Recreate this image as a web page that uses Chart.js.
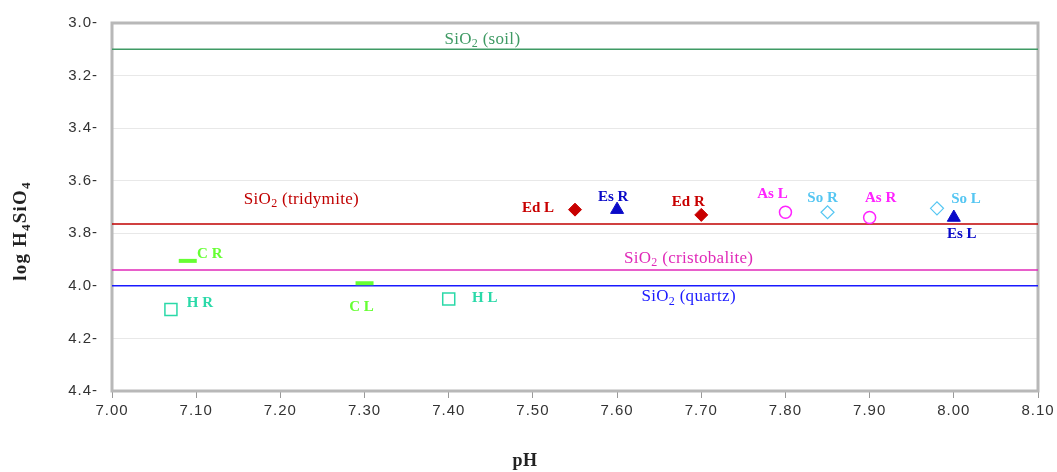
<!DOCTYPE html>
<html>
<head>
<meta charset="utf-8">
<script src="https://cdn.jsdelivr.net/npm/chart.js@4.4.1/dist/chart.umd.min.js"></script>
<style>
  html, body { margin: 0; padding: 0; background: #ffffff; }
  #wrap { width: 1057px; height: 472px; }
</style>
</head>
<body>
<div id="wrap"><canvas id="c" width="1057" height="472"></canvas></div>
<script>
// ---- data ----
const sampleNames = ['H R', 'C R', 'C L', 'H L', 'Ed L', 'Es R', 'Ed R', 'As L', 'So R', 'As R', 'So L', 'Es L'];
const sampleGroups = ['H', 'C', 'C', 'H', 'Ed', 'Es', 'Ed', 'As', 'So', 'As', 'So', 'Es'];
const samplePH = [7.07, 7.09, 7.30, 7.40, 7.55, 7.60, 7.70, 7.80, 7.85, 7.90, 7.98, 8.00];
const sampleLogSi = [4.09, 3.905, 3.99, 4.05, 3.71, 3.71, 3.73, 3.72, 3.72, 3.74, 3.705, 3.74];

const phaseNames = ['soil', 'tridymite', 'cristobalite', 'quartz'];
const phaseLogSi = [3.10, 3.765, 3.94, 4.00];

const xRange = [7.0, 8.1];
const yRange = [3.0, 4.4];
const xStep = 0.1;
const yStep = 0.2;

// ---- styles ----
const groupStyle = {
  H:  { color: '#2ad9a8', pointStyle: 'rect',     fill: false, radius: 8.5, border: 1.5 },
  C:  { color: '#66ff33', pointStyle: 'line',     fill: false, radius: 9,   border: 4 },
  Ed: { color: '#c80000', pointStyle: 'rectRot',  fill: true,  radius: 6.5, border: 1 },
  Es: { color: '#0a0ac8', pointStyle: 'triangle', fill: true,  radius: 7.5, border: 1 },
  As: { color: '#ff22ff', pointStyle: 'circle',   fill: false, radius: 6,   border: 1.5 },
  So: { color: '#55c6f2', pointStyle: 'rectRot',  fill: false, radius: 6.5, border: 1.2 }
};
const phaseColors = ['#3f9a64', '#c00000', '#e02ab8', '#1a1aff'];
// label placement: anchor pH and pixel offset from line
const phaseLabelPH = [7.44, 7.225, 7.685, 7.685];
const phaseLabelDy = [-10, -25, -12, 11];
// sample label pixel offsets [dx, dy]
const sampleLabelOffsets = [[29, -6], [22, -7], [-3, 24], [36, -1], [-37, -2], [-4, -13], [-13, -13], [-13, -18], [-5, -14], [11, -19], [29, -9], [8, 17]];

// ---- datasets ----
const datasets = [];
phaseNames.forEach((n, i) => {
  datasets.push({
    label: 'SiO2 (' + n + ')',
    type: 'line',
    data: [{ x: xRange[0], y: phaseLogSi[i] }, { x: xRange[1], y: phaseLogSi[i] }],
    borderColor: phaseColors[i],
    borderWidth: 1.5,
    pointRadius: 0,
    fill: false,
    order: 2
  });
});
Object.keys(groupStyle).forEach(g => {
  const s = groupStyle[g];
  const pts = [];
  sampleGroups.forEach((sg, i) => { if (sg === g) pts.push({ x: samplePH[i], y: sampleLogSi[i] }); });
  datasets.push({
    label: g,
    type: 'scatter',
    data: pts,
    pointStyle: s.pointStyle,
    pointRadius: s.radius,
    pointHoverRadius: s.radius,
    borderColor: s.color,
    backgroundColor: s.fill ? s.color : 'rgba(255,255,255,0)',
    pointBorderWidth: s.border,
    borderWidth: s.border,
    order: 1
  });
});

function drawSubText(ctx, parts, x, y, size, weight, align, spacing) {
  const fam = '"Liberation Serif", "DejaVu Serif", serif';
  ctx.letterSpacing = (spacing || 0) + 'px';
  let total = 0;
  parts.forEach(p => {
    ctx.font = weight + ' ' + (p[1] ? Math.round(size * 0.68) : size) + 'px ' + fam;
    total += ctx.measureText(p[0]).width;
  });
  let cx = align === 'center' ? x - total / 2 : x;
  ctx.textAlign = 'left';
  ctx.textBaseline = 'middle';
  parts.forEach(p => {
    ctx.font = weight + ' ' + (p[1] ? Math.round(size * 0.68) : size) + 'px ' + fam;
    ctx.fillText(p[0], cx, p[1] ? y + size * 0.28 : y);
    cx += ctx.measureText(p[0]).width;
  });
  ctx.letterSpacing = '0px';
}

const annotPlugin = {
  id: 'annot',
  beforeDraw(chart) {
    chart.ctx.letterSpacing = '1px';
  },
  beforeDatasetsDraw(chart) {
    const ctx = chart.ctx, a = chart.chartArea;
    ctx.letterSpacing = '0px';
    ctx.save();
    ctx.strokeStyle = '#b8b8b8';
    ctx.lineWidth = 3;
    ctx.strokeRect(a.left, a.top, a.right - a.left, a.bottom - a.top);
    ctx.restore();
  },
  afterDatasetsDraw(chart) {
    const ctx = chart.ctx, xs = chart.scales.x, ys = chart.scales.y;
    ctx.save();
    ctx.letterSpacing = '0px';
    // phase line labels
    phaseNames.forEach((n, i) => {
      ctx.fillStyle = phaseColors[i];
      const px = xs.getPixelForValue(phaseLabelPH[i]);
      const py = ys.getPixelForValue(phaseLogSi[i]) + phaseLabelDy[i];
      drawSubText(ctx, [['SiO', false], ['2', true], [' (' + n + ')', false]], px, py, 17, 'normal', 'center', 0.3);
    });
    // sample labels
    ctx.textAlign = 'center';
    ctx.textBaseline = 'middle';
    ctx.font = 'bold 15px "Liberation Serif", "DejaVu Serif", serif';
    sampleNames.forEach((n, i) => {
      const px = xs.getPixelForValue(samplePH[i]) + sampleLabelOffsets[i][0];
      const py = ys.getPixelForValue(sampleLogSi[i]) + sampleLabelOffsets[i][1];
      ctx.fillStyle = groupStyle[sampleGroups[i]].color;
      ctx.fillText(n, px, py);
    });
    // axis titles
    ctx.fillStyle = '#222';
    drawSubText(ctx, [['pH', false]], 525, 461, 18, 'bold', 'center', 0.5);
    ctx.translate(21, 231);
    ctx.rotate(-Math.PI / 2);
    drawSubText(ctx, [['log H', false], ['4', true], ['SiO', false], ['4', true]], 0, 0, 19, 'bold', 'center', 1.2);
    ctx.restore();
  }
};

new Chart(document.getElementById('c'), {
  type: 'scatter',
  data: { datasets },
  plugins: [annotPlugin],
  options: {
    responsive: false,
    devicePixelRatio: 1,
    animation: false,
    layout: { padding: { left: 0, right: 19, top: 20, bottom: 0 } },
    plugins: { legend: { display: false }, tooltip: { enabled: false } },
    scales: {
      x: {
        type: 'linear',
        min: xRange[0], max: xRange[1],
        afterFit(s) { s.height = 81; },
        ticks: {
          stepSize: xStep,
          callback: v => Number(v).toFixed(2),
          font: { family: '"Liberation Sans", Arial, sans-serif', size: 15 },
          color: '#333',
          padding: 4,
          maxRotation: 0
        },
        grid: { drawOnChartArea: false, tickLength: 7, color: '#999', lineWidth: 1 },
        border: { display: false }
      },
      y: {
        type: 'linear',
        reverse: true,
        min: yRange[0], max: yRange[1],
        afterFit(s) { s.width = 112; },
        ticks: {
          stepSize: yStep,
          callback: v => Number(v).toFixed(1) + '-',
          font: { family: '"Liberation Sans", Arial, sans-serif', size: 15 },
          color: '#333',
          padding: 14
        },
        grid: { drawTicks: false, color: '#e8e8e8', lineWidth: 1 },
        border: { display: false }
      }
    }
  }
});
</script>
</body>
</html>
